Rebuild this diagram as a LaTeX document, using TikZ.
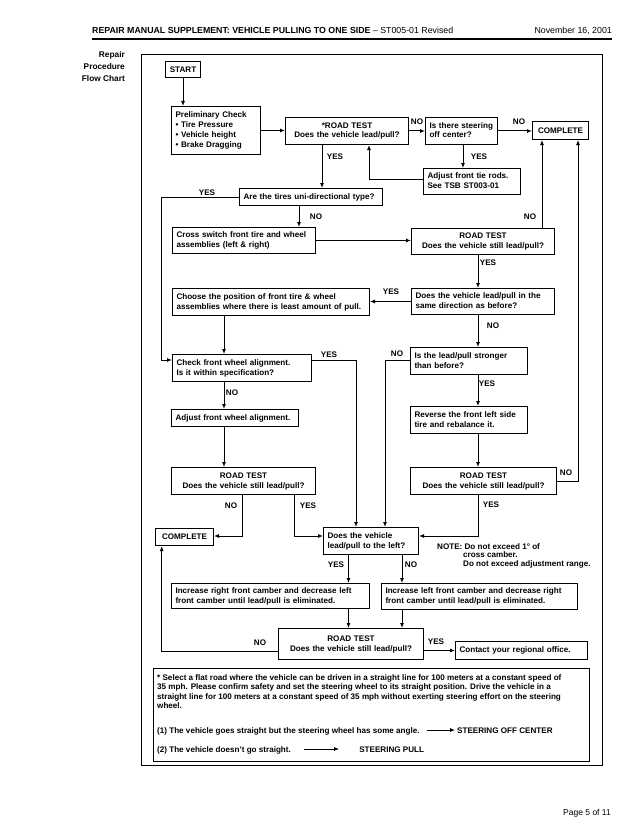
\documentclass[tikz,border=0pt]{standalone}
\usepackage{fontspec}
\setmainfont{Liberation Sans}
\usetikzlibrary{arrows.meta}
\newcommand\bxfont{\bfseries\fontsize{8.1}{10}\selectfont}
\newcommand\tL[1]{\begin{tabular}{@{}l@{}}#1\end{tabular}}
\newcommand\tC[1]{\begin{tabular}{@{}c@{}}#1\end{tabular}}
\begin{document}
\begin{tikzpicture}[x=1pt,y=-1pt,
  box/.style={draw,line width=1pt,anchor=north west,inner xsep=4pt,inner ysep=0pt,font=\bxfont,align=left},
  cbox/.style={box,align=center},
  lbl/.style={font=\bxfont,inner sep=0pt},
  arr/.style={line width=1pt,-{Latex[length=5pt,width=4pt]}},
  narr/.style={line width=0.8pt,-{Latex[length=5pt,width=4pt]}},
]
\useasboundingbox[fill=white] (0,0) rectangle (640,832);
% header
\node[anchor=base west,inner sep=0pt,font=\bfseries\fontsize{8.8}{10.5}\selectfont] (hdr) at (92,34) {REPAIR MANUAL SUPPLEMENT: VEHICLE PULLING TO ONE SIDE\mdseries{} – ST005-01 Revised};
\node[anchor=base east,inner sep=0pt,font=\fontsize{8.8}{10.5}\selectfont] (date) at (612,34) {November 16, 2001};
\coordinate (rl) at (92,39);
\coordinate (rr) at (612,39);
\draw[line width=1.6pt] (rl) -- (rr);
\node[anchor=north east,align=right,inner sep=0pt,font=\bfseries\fontsize{8.3}{12.3}\selectfont] (side) at (125,51) {Repair\\Procedure\\Flow Chart};
\node[draw,line width=0.8pt,anchor=north west,minimum width=461pt,minimum height=711pt,inner sep=0pt] (frame) at (141,54) {};
% boxes
\node[cbox,minimum width=35pt,text width=27pt,minimum height=16pt] (start) at (165,61) {START};
\node[box,minimum width=89pt,text width=81pt,minimum height=48pt] (prelim) at (171,106) {\tL{Preliminary Check\\• Tire Pressure\\• Vehicle height\\• Brake Dragging}};
\node[cbox,minimum width=123pt,text width=115pt,minimum height=27pt] (rt1) at (285,117) {\tC{*ROAD TEST\\Does the vehicle lead/pull?}};
\node[box,minimum width=72pt,text width=64pt,minimum height=27pt] (steer) at (425,117) {\tL{Is there steering\\off center?}};
\node[cbox,minimum width=56pt,text width=48pt,minimum height=18pt] (comp1) at (532,121) {COMPLETE};
\node[box,minimum width=97pt,text width=89pt,minimum height=26pt] (tie) at (423,168) {\tL{Adjust front tie rods.\\See TSB ST003-01}};
\node[box,minimum width=143pt,text width=135pt,minimum height=17pt] (tires) at (239,188) {\tL{Are the tires uni-directional type?}};
\node[box,minimum width=143pt,text width=135pt,minimum height=26pt] (cross) at (172,227) {\tL{Cross switch front tire and wheel\\assemblies (left \& right)}};
\node[cbox,minimum width=143pt,text width=135pt,minimum height=26pt] (rt2) at (411,228) {\tC{ROAD TEST\\Does the vehicle still lead/pull?}};
\node[box,minimum width=197pt,text width=189pt,minimum height=27pt] (choose) at (172,288) {\tL{Choose the position of front tire \& wheel\\assemblies where there is least amount of pull.}};
\node[box,minimum width=143pt,text width=135pt,minimum height=26pt] (same) at (411,288) {\tL{Does the vehicle lead/pull in the\\same direction as before?}};
\node[box,minimum width=139pt,text width=131pt,minimum height=27pt] (check) at (172,354) {\tL{Check front wheel alignment.\\Is it within specification?}};
\node[box,minimum width=117pt,text width=109pt,minimum height=27pt] (stronger) at (410,347) {\tL{Is the lead/pull stronger\\than before?}};
\node[box,minimum width=127pt,text width=119pt,minimum height=17pt] (adjust) at (171,409) {\tL{Adjust front wheel alignment.}};
\node[box,minimum width=117pt,text width=109pt,minimum height=27pt] (reverse) at (410,406) {\tL{Reverse the front left side\\tire and rebalance it.}};
\node[cbox,minimum width=144pt,text width=136pt,minimum height=27pt] (rt3L) at (171,467) {\tC{ROAD TEST\\Does the vehicle still lead/pull?}};
\node[cbox,minimum width=146pt,text width=138pt,minimum height=27pt] (rt3R) at (410,467) {\tC{ROAD TEST\\Does the vehicle still lead/pull?}};
\node[cbox,minimum width=58pt,text width=50pt,minimum height=17pt] (comp2) at (155,528) {COMPLETE};
\node[box,minimum width=95pt,text width=87pt,minimum height=27pt] (left) at (323,527) {\tL{Does the vehicle\\lead/pull to the left?}};
\node[box,minimum width=198pt,text width=190pt,minimum height=25pt] (incR) at (171,583) {\tL{Increase right front camber and decrease left\\front camber until lead/pull is eliminated.}};
\node[box,minimum width=196pt,text width=188pt,minimum height=26pt] (incL) at (381,583) {\tL{Increase left front camber and decrease right\\front camber until lead/pull is eliminated.}};
\node[cbox,minimum width=145pt,text width=137pt,minimum height=31pt] (rt4) at (278,628) {\tC{ROAD TEST\\Does the vehicle still lead/pull?}};
\node[box,minimum width=132pt,text width=124pt,minimum height=18pt] (contact) at (455,641) {\tL{Contact your regional office.}};
% lane coordinates
\coordinate (kA) at (322,0);
\coordinate (kT) at (369,179);
\coordinate (kS) at (463,0);
\coordinate (kL) at (161.7,360);
\coordinate (kC) at (299,0);
\coordinate (kR2) at (542,0);
\coordinate (kM) at (478,0);
\coordinate (kQ) at (224,0);
\coordinate (kY) at (356,360);
\coordinate (kN) at (385,360);
\coordinate (kRR) at (578,0);
\coordinate (kB) at (478,536);
\coordinate (kD) at (242,536);
\coordinate (kE) at (294,536);
\coordinate (kF) at (348.5,0);
\coordinate (kG) at (402,0);
\coordinate (kH) at (161.7,651);
% connectors
\draw[arr] (start.south) -- (start.south |- prelim.north);
\draw[arr] (prelim.east) -- (prelim.east -| rt1.west);
\draw[arr] (rt1.east) -- (rt1.east -| steer.west);
\draw[arr] (steer.east) -- (steer.east -| comp1.west);
\draw[arr] (steer.south -| kS) -- (tie.north -| kS);
\draw[arr] (tie.west |- kT) -- (kT) -- (rt1.south -| kT);
\draw[arr] (rt1.south -| kA) -- (tires.north -| kA);
\draw[arr] (tires.west) -- (tires.west -| kL) -- (kL) -- (kL -| check.west);
\draw[arr] (tires.south -| kC) -- (cross.north -| kC);
\draw[arr] (cross.east) -- (cross.east -| rt2.west);
\draw[arr] (rt2.north -| kR2) -- (comp1.south -| kR2);
\draw[arr] (rt2.south -| kM) -- (same.north -| kM);
\draw[arr] (same.west) -- (same.west -| choose.east);
\draw[arr] (same.south -| kM) -- (stronger.north -| kM);
\draw[arr] (choose.south -| kQ) -- (check.north -| kQ);
\draw[arr] (check.east |- kY) -- (kY) -- (left.north -| kY);
\draw[arr] (stronger.west |- kN) -- (kN) -- (left.north -| kN);
\draw[arr] (stronger.south -| kM) -- (reverse.north -| kM);
\draw[arr] (check.south -| kQ) -- (adjust.north -| kQ);
\draw[arr] (adjust.south -| kQ) -- (rt3L.north -| kQ);
\draw[arr] (reverse.south -| kM) -- (rt3R.north -| kM);
\draw[arr] (rt3R.east) -- (rt3R.east -| kRR) -- (comp1.south -| kRR);
\draw[arr] (rt3R.south -| kB) -- (kB) -- (kB -| left.east);
\draw[arr] (rt3L.south -| kD) -- (kD) -- (kD -| comp2.east);
\draw[arr] (rt3L.south -| kE) -- (kE) -- (kE -| left.west);
\draw[arr] (left.south -| kF) -- (incR.north -| kF);
\draw[arr] (left.south -| kG) -- (incL.north -| kG);
\draw[arr] (incR.south -| kF) -- (rt4.north -| kF);
\draw[arr] (incL.south -| kG) -- (rt4.north -| kG);
\draw[arr] (rt4.west |- kH) -- (kH) -- (comp2.south -| kH);
\draw[arr] (rt4.east |- contact.west) -- (contact.west);
% labels
\node[lbl] (y1) at (417,122) {NO};
\node[lbl] (y2) at (519,122) {NO};
\node[lbl] (y3) at (479,157) {YES};
\node[lbl] (y4) at (335,157) {YES};
\node[lbl] (y5) at (207,193) {YES};
\node[lbl] (y6) at (316,217) {NO};
\node[lbl] (y7) at (530,217) {NO};
\node[lbl] (y8) at (488,263) {YES};
\node[lbl] (y9) at (391,292) {YES};
\node[lbl] (y10) at (493,326) {NO};
\node[lbl] (y11) at (329,355) {YES};
\node[lbl] (y12) at (397,354) {NO};
\node[lbl] (y13) at (232,393) {NO};
\node[lbl] (y14) at (487,384) {YES};
\node[lbl] (y15) at (566,473) {NO};
\node[lbl] (y16) at (231,506) {NO};
\node[lbl] (y17) at (308,506) {YES};
\node[lbl] (y18) at (491,505) {YES};
\node[lbl] (y19) at (336,565) {YES};
\node[lbl] (y20) at (411,565) {NO};
\node[lbl] (y21) at (260,643) {NO};
\node[lbl] (y22) at (436,642) {YES};
% note
\node[anchor=north west,align=left,inner sep=0pt,font=\bfseries\fontsize{8.1}{8.6}\selectfont] (notec) at (437,543) {NOTE: Do not exceed 1° of\\\hspace*{26pt}cross camber.\\\hspace*{26pt}Do not exceed adjustment range.};
\node[draw,line width=1pt,anchor=north west,minimum width=436pt,minimum height=93pt,inner sep=0pt] (note) at (153,668) {};
\node[anchor=north west,align=left,inner sep=0pt,font=\bfseries\fontsize{8.1}{9.6}\selectfont] (para) at (157,674) {* Select a flat road where the vehicle can be driven in a straight line for 100 meters at a constant speed of\\35 mph. Please confirm safety and set the steering wheel to its straight position. Drive the vehicle in a\\straight line for 100 meters at a constant speed of 35 mph without exerting steering effort on the steering\\wheel.};
\node[anchor=base west,inner sep=0pt,font=\bxfont] (n1) at (157,733) {(1) The vehicle goes straight but the steering wheel has some angle.};
\node[anchor=base west,inner xsep=2pt,inner ysep=0pt,font=\bxfont] (n1b) at (455,733) {STEERING OFF CENTER};
\coordinate (a1) at (427,730);
\draw[narr] (a1) -- (a1 -| n1b.west);
\node[anchor=base west,inner sep=0pt,font=\bxfont] (n2) at (157,752) {(2) The vehicle doesn’t go straight.};
\node[anchor=base west,inner sep=0pt,font=\bxfont] (n2b) at ([xshift=68pt]n2.base east) {STEERING PULL};
\draw[narr] ([xshift=13pt,yshift=3pt]n2.base east) -- ([xshift=48pt,yshift=3pt]n2.base east);
% footer
\node[anchor=base east,inner sep=0pt,font=\fontsize{8.5}{10}\selectfont] (page) at (611,815) {Page 5 of 11};
\end{tikzpicture}
\end{document}
